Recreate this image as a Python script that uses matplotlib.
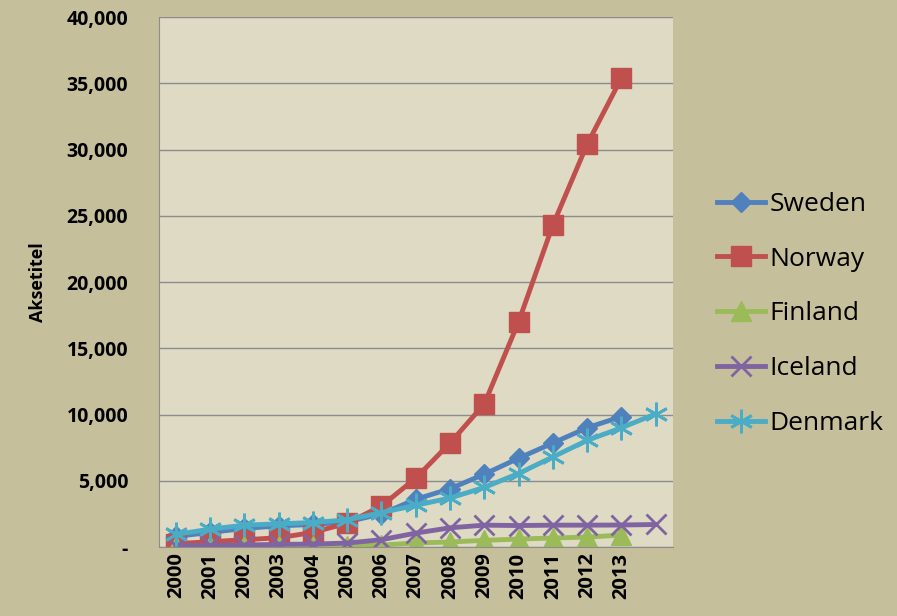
import matplotlib.pyplot as plt
from matplotlib.ticker import FuncFormatter

years = [str(y) for y in range(2000, 2014)] + [""]
positions = list(range(15))

sweden = [800, 1100, 1400, 1600, 1700, 1900, 2500, 3600, 4400, 5500, 6700, 7850, 9000, 9850]
norway = [250, 400, 550, 700, 1100, 1800, 3100, 5200, 7850, 10800, 17000, 24300, 30400, 35400]
finland = [50, 60, 70, 80, 90, 100, 150, 300, 380, 500, 600, 680, 750, 900]
iceland = [100, 120, 150, 200, 220, 300, 550, 1050, 1450, 1650, 1620, 1650, 1650, 1660, 1700]
denmark = [950, 1350, 1650, 1750, 1850, 2050, 2600, 3150, 3700, 4500, 5550, 6800, 8050, 9000, 10050]

fig_bg = "#c6bf9b"
plot_bg = "#dedac4"
plt.rcParams['font.family'] = ['Open Sans', 'DejaVu Sans']

fig = plt.figure(figsize=(8.97, 6.16), dpi=100, facecolor=fig_bg)
ax = fig.add_axes([0.177, 0.112, 0.573, 0.860])
ax.set_facecolor(plot_bg)

ax.plot(positions[:14], sweden, color="#4f81bd", lw=3.5, marker="D", ms=10, label="Sweden")
ax.plot(positions[:14], norway, color="#c0504d", lw=3.5, marker="s", ms=14, label="Norway")
ax.plot(positions[:14], finland, color="#9bbb59", lw=3.5, marker="^", ms=14, label="Finland")
ax.plot(positions, iceland, color="#8064a2", lw=3.5, marker="x", ms=15, mew=2, label="Iceland")
ax.plot(positions, denmark, color="#4bacc6", lw=3.5, marker=(6, 2, 0), ms=17, mew=2, label="Denmark")

ax.set_xlim(-0.5, 14.5)
ax.set_ylim(0, 40000)
ax.set_yticks(range(0, 40001, 5000))
ax.yaxis.set_major_formatter(FuncFormatter(lambda v, p: "-" if v == 0 else f"{int(v):,}"))
ax.set_xticks(positions)
ax.set_xticklabels(years, rotation=90, fontweight="bold", fontsize=14.5)
for lab in ax.get_yticklabels():
    lab.set_fontweight("bold")
    lab.set_fontsize(14)
ax.tick_params(axis="y", length=0, pad=22)
ax.tick_params(axis="x", length=0, pad=4)
ax.grid(axis="y", color="#8c8c8c", lw=1)
ax.set_axisbelow(True)
for s in ["top", "right"]:
    ax.spines[s].set_visible(False)
ax.spines["left"].set_color("#8c8c8c")
ax.spines["bottom"].set_color("#8c8c8c")
ax.set_ylabel("Aksetitel", fontweight="bold", fontsize=13, labelpad=14)

ax.legend(loc="center left", bbox_to_anchor=(1.04, 0.44), frameon=False, fontsize=19,
          handlelength=1.8, handletextpad=0.2, labelspacing=1.13)

fig.savefig("out.png", dpi=100, facecolor=fig_bg)
